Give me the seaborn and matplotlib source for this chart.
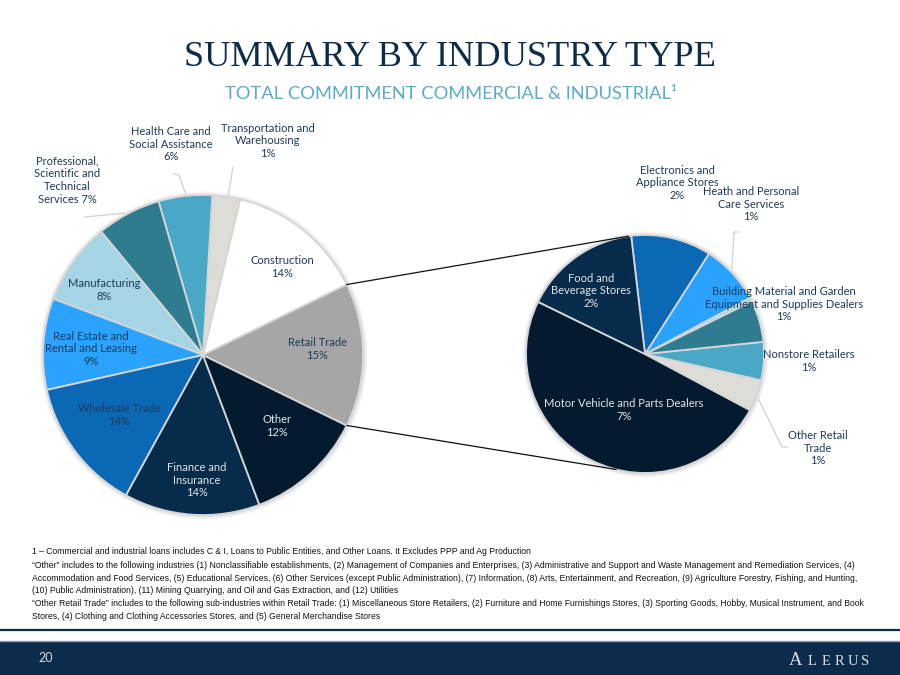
import numpy as np
import matplotlib
matplotlib.use("Agg")
import matplotlib.pyplot as plt
from matplotlib.patches import Circle, Rectangle
import seaborn as sns

# Main pie: share of total C&I commitment (slice sizes)
main_names = ["Construction", "Transportation and Warehousing",
              "Health Care and Social Assistance",
              "Professional, Scientific and Technical Services",
              "Manufacturing", "Real Estate and Rental and Leasing",
              "Wholesale Trade", "Finance and Insurance", "Other", "Retail Trade"]
main_values = [14.0, 2.8, 5.4, 6.5, 8.3, 9.2, 13.5, 13.7, 12.0, 14.5]
main_labels = ["Construction\n14%", "Transportation and\nWarehousing\n1%",
               "Health Care and\nSocial Assistance\n6%",
               "Professional,\nScientific and\nTechnical\nServices 7%",
               "Manufacturing\n8%", "Real Estate and\nRental and Leasing\n9%",
               "Wholesale Trade\n14%", "Finance and\nInsurance\n14%",
               "Other\n12%", "Retail Trade\n15%"]
main_colors = ["#ffffff", "#dddcd7", "#49a8c6", "#2f7b8f", "#a5d5e4",
               "#29a3fd", "#0b68b5", "#062b4b", "#041b2f", "#a6a6a6"]

# Second pie: Retail Trade broken down (share of total)
retail_names = ["Motor Vehicle and Parts Dealers", "Other Retail Trade",
                "Nonstore Retailers",
                "Building Material and Garden Equipment and Supplies Dealers",
                "unlabeled", "Heath and Personal Care Services",
                "Electronics and Appliance Stores", "Food and Beverage Stores"]
retail_values = [7.17, 0.62, 0.75, 0.82, 0.08, 1.18, 1.58, 2.31]
retail_labels = ["Motor Vehicle and Parts Dealers\n7%", "Other Retail\nTrade\n1%",
                 "Nonstore Retailers\n1%",
                 "Building Material and Garden\nEquipment and Supplies Dealers\n1%",
                 "", "Heath and Personal\nCare Services\n1%",
                 "Electronics and\nAppliance Stores\n2%", "Food and\nBeverage Stores\n2%"]
retail_colors = ["#041b2f", "#dddcd7", "#49a8c6", "#2f7b8f", "#a5d5e4",
                 "#29a3fd", "#0b68b5", "#062b4b"]

footnotes = [
    "1 \u2013 Commercial and industrial loans includes C & I, Loans to Public Entities, and Other Loans. It Excludes PPP and Ag Production",
    "\u201cOther\u201d includes to the following industries (1) Nonclassifiable establishments, (2) Management of Companies and Enterprises, (3) Administrative and Support and Waste Management and Remediation Services, (4)\n"
    "Accommodation and Food Services, (5) Educational Services, (6) Other Services (except Public Administration), (7) Information, (8) Arts, Entertainment, and Recreation, (9) Agriculture Forestry, Fishing, and Hunting,\n"
    "(10) Public Administration), (11) Mining Quarrying, and Oil and Gas Extraction, and (12) Utilities",
    "\u201cOther Retail Trade\u201d includes to the following sub-industries within Retail Trade: (1) Miscellaneous Store Retailers, (2) Furniture and Home Furnishings Stores, (3) Sporting Goods, Hobby, Musical Instrument, and Book\n"
    "Stores, (4) Clothing and Clothing Accessories Stores, and (5) General Merchandise Stores",
]

# ---- layout (pixel coordinates, y measured from top) ----
W, H = 900, 675
C1, R1 = (203, 355), 160
C2, R2 = (645, 354), 119
main_label_xy = [(282, 267), (268, 141), (171, 144), (67, 180), (104, 290),
                 (91, 349), (119, 415), (197, 480), (277, 426), (317, 349)]
main_label_dark = [True, True, True, True, True, True, True, False, False, True]
retail_label_xy = [(624, 410), (818, 448), (809, 361), (784, 304), (0, 0),
                   (751, 204), (677, 183), (591, 291)]
retail_label_dark = [False, True, True, True, True, True, True, False]

NAVY = "#0d2c4b"
TXT = "#1d3a5c"
LIGHT_TXT = "#e3e6ea"
EDGE = "#d6d6d6"


def Y(y):
    return H - y


sns.set_theme(style="white")
plt.rcParams["font.family"] = ["Lato", "DejaVu Sans"]

fig = plt.figure(figsize=(9, 6.75), dpi=100)
ax = fig.add_axes([0, 0, 1, 1])


def shadow(center, r):
    for i in range(5):
        ax.add_patch(Circle((center[0] + 0.5, Y(center[1]) - 0.5), r + 4 - i * 0.8,
                            color="#7f7f7f", alpha=0.05, lw=0, zorder=1))


shadow(C1, R1)
shadow(C2, R2)

start1 = main_values[-1] / sum(main_values) * 180
ax.pie(main_values, colors=main_colors, startangle=start1, counterclock=True,
       center=(C1[0], Y(C1[1])), radius=R1, frame=True,
       wedgeprops=dict(edgecolor=EDGE, linewidth=1.3, zorder=2))
ax.pie(retail_values, colors=retail_colors, startangle=154, counterclock=True,
       center=(C2[0], Y(C2[1])), radius=R2, frame=True,
       wedgeprops=dict(edgecolor=EDGE, linewidth=1.3, zorder=2))

for txt, (x, y), dark in zip(main_labels, main_label_xy, main_label_dark):
    ax.text(x, Y(y), txt, ha="center", va="center", fontsize=8,
            color=TXT if dark else LIGHT_TXT, linespacing=1.2, zorder=5)
for txt, (x, y), dark in zip(retail_labels, retail_label_xy, retail_label_dark):
    if txt:
        ax.text(x, Y(y), txt, ha="center", va="center", fontsize=8,
                color=TXT if dark else LIGHT_TXT, linespacing=1.2, zorder=5)

# leader lines
leaders = [
    [(85, 217), (125, 213)],
    [(173, 174), (179, 175), (186, 195)],
    [(233, 167), (228, 197)],
    [(739, 232), (734, 232), (732, 268)],
    [(758, 398), (782, 447), (788, 447)],
]
for pts in leaders:
    xs = [p[0] for p in pts]
    ys = [Y(p[1]) for p in pts]
    ax.plot(xs, ys, color="#d4d4d4", lw=1.0, zorder=4)

# connector lines between the Retail slice and the second pie
a_top = np.deg2rad(start1)
a_bot = np.deg2rad(-start1)
p1 = (C1[0] + R1 * np.cos(a_top), Y(C1[1]) + R1 * np.sin(a_top))
p2 = (C1[0] + R1 * np.cos(a_bot), Y(C1[1]) + R1 * np.sin(a_bot))
q1 = (C2[0] + R2 * np.cos(np.deg2rad(98)), Y(C2[1]) + R2 * np.sin(np.deg2rad(98)))
q2 = (C2[0] + R2 * np.cos(np.deg2rad(256)), Y(C2[1]) + R2 * np.sin(np.deg2rad(256)))
ax.plot([p1[0], q1[0]], [p1[1], q1[1]], color="#111111", lw=0.9, zorder=3)
ax.plot([p2[0], q2[0]], [p2[1], q2[1]], color="#111111", lw=0.9, zorder=3)

# titles
ax.text(450, Y(57), "SUMMARY BY INDUSTRY TYPE", ha="center", va="center",
        fontsize=26.2, color=NAVY, family=["Liberation Serif", "DejaVu Serif"])
ax.text(451, Y(94), "TOTAL COMMITMENT COMMERCIAL & INDUSTRIAL\u00b9", ha="center",
        va="center", fontsize=13.2, color="#5aaccb")

# footnotes
narrow = ["Liberation Sans Narrow", "Liberation Sans", "DejaVu Sans"]
foot_y = [552, 561.5, 599.5]
for txt, y in zip(footnotes, foot_y):
    ax.text(32, Y(y), txt, ha="left", va="center" if "\n" not in txt else "top",
            fontsize=6.25, color="#111111", family=narrow, linespacing=1.45)

# footer band
ax.plot([0, W], [Y(630), Y(630)], color=NAVY, lw=1.6, zorder=3)
ax.add_patch(Rectangle((0, 0), W, Y(641), color=NAVY, lw=0, zorder=3))
ax.plot([0, W], [Y(641), Y(641)], color="#8ea3b8", lw=1.0, zorder=4)
ax.text(46, Y(658), "20", ha="center", va="center", fontsize=9,
        color="#d3dae2", zorder=5)
serif = ["Liberation Serif", "DejaVu Serif"]
ax.text(789, Y(665), "A", ha="left", va="baseline", fontsize=13.5,
        color="#d8dee6", family=serif, zorder=5)
for i, ch in enumerate("LERUS"):
    ax.text(808 + i * 13.2, Y(665), ch, ha="left", va="baseline", fontsize=10.5,
            color="#d8dee6", family=serif, zorder=5)

ax.set_xlim(0, W)
ax.set_ylim(0, H)
ax.axis("off")
fig.savefig("out.png", dpi=100)
